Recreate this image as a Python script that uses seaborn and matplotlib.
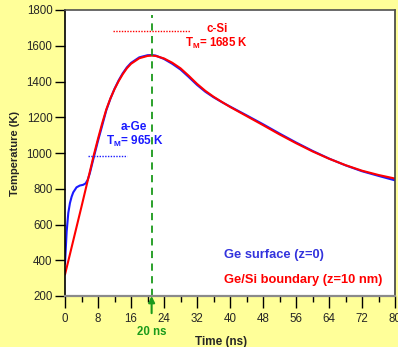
import matplotlib
matplotlib.use("Agg")
import matplotlib.pyplot as plt
import seaborn as sns
import numpy as np
import pandas as pd

# ---- data ----
t_red = [0, 1, 2, 3, 4, 5, 6, 7, 8, 9, 10, 11, 12, 13, 14, 15, 16, 18, 20, 21, 22, 24,
         26, 28, 30, 32, 34, 36, 38, 40, 44, 48, 52, 56, 60, 64, 68, 72, 76, 80]
T_red = [320, 415, 510, 605, 700, 797, 893, 990, 1080, 1165, 1243, 1305, 1357, 1402,
         1441, 1474, 1499, 1530, 1543, 1545, 1543, 1529, 1505, 1474, 1432, 1387, 1348,
         1315, 1286, 1258, 1207, 1156, 1104, 1055, 1009, 968, 932, 901, 877, 857]

t_blue = [0, 0.4, 0.8, 1.2, 1.6, 2, 2.8, 3.6, 4.4, 5, 5.5, 6, 7, 8, 9, 10, 11, 12, 13,
          14, 15, 16, 18, 20, 21, 22, 24, 26, 28, 30, 32, 34, 36, 38, 40, 44, 48, 52,
          56, 60, 64, 68, 72, 76, 80]
T_blue = [380, 560, 665, 720, 755, 780, 808, 818, 822, 830, 850, 885, 978, 1068, 1152,
          1238, 1303, 1359, 1406, 1446, 1479, 1504, 1535, 1547, 1548, 1545, 1526, 1499,
          1467, 1425, 1381, 1343, 1312, 1285, 1260, 1211, 1161, 1109, 1059, 1012, 969,
          931, 898, 872, 847]

series_names = ["Ge surface (z=0)", "Ge/Si boundary (z=10 nm)"]
series_colors = ["#1a1aff", "#ff0000"]

x_ticks = [0, 8, 16, 24, 32, 40, 48, 56, 64, 72, 80]
y_ticks = [200, 400, 600, 800, 1000, 1200, 1400, 1600, 1800]

Tm_Si = 1680
Tm_Si_span = [11.6, 30.3]
Tm_Ge = 981
Tm_Ge_span = [5.6, 15.0]
pulse_t = 21

df = pd.concat([
    pd.DataFrame({"t": t_blue, "T": T_blue, "s": series_names[0]}),
    pd.DataFrame({"t": t_red, "T": T_red, "s": series_names[1]}),
])

# ---- style ----
sns.set_style("white")
plt.rcParams["font.family"] = ["Liberation Sans", "DejaVu Sans"]
plt.rcParams["mathtext.fontset"] = "custom"
plt.rcParams["mathtext.rm"] = "Liberation Sans"
plt.rcParams["mathtext.bf"] = "Liberation Sans:bold"

bg = "#ffff99"
fig = plt.figure(figsize=(3.98, 3.47), dpi=100, facecolor=bg)
ax = fig.add_axes([65 / 398, 1 - 296 / 347, 330 / 398, 286 / 347])
ax.set_facecolor("white")

sns.lineplot(data=df, x="t", y="T", hue="s", palette=series_colors, sort=False,
             linewidth=1.5, legend=False, ax=ax)

ax.set_xlim(0, 80)
ax.set_ylim(200, 1800)
ax.set_xticks(x_ticks)
ax.set_xticks(np.arange(0, 81, 4), minor=True)
ax.set_yticks(y_ticks)
ax.tick_params(axis="x", which="major", direction="out", length=8.5, width=1,
               color="black", labelsize=8.3, pad=4, bottom=True)
ax.tick_params(axis="x", which="minor", direction="out", length=4.5, width=1,
               color="black", bottom=True)
ax.tick_params(axis="y", which="major", direction="out", length=7, width=1,
               color="black", labelsize=8.3, pad=2, left=True)

for side, col, lw in [("left", "black", 1.2), ("top", "#505050", 1.2),
                      ("right", "#404040", 1.2), ("bottom", "#8a8a8a", 1.6)]:
    ax.spines[side].set_visible(True)
    ax.spines[side].set_color(col)
    ax.spines[side].set_linewidth(lw)

ax.set_xlabel("Time (ns)", fontsize=8.5, fontweight="bold")
ax.xaxis.set_label_coords(0.473, -0.14)
ax.set_ylabel("Temperature (K)", fontsize=8, fontweight="bold", labelpad=5)

# melting lines
ax.plot(Tm_Si_span, [Tm_Si, Tm_Si], color="red", linestyle=(0, (1, 1)), linewidth=1)
ax.plot(Tm_Ge_span, [Tm_Ge, Tm_Ge], color="#1a1aff", linestyle=(0, (1, 1)), linewidth=1)

ax.text(36.8, 1694, "c-Si", color="red", fontsize=8.3, fontweight="bold",
        ha="center", va="center")
ax.text(36.8, 1615, r"T$_{\mathbf{M}}$= 1685 K", color="red", fontsize=8.3,
        fontweight="bold", ha="center", va="center")
ax.text(16.8, 1145, "a-Ge", color="#1a1aff", fontsize=8.5, fontweight="bold",
        ha="center", va="center")
ax.text(16.9, 1062, r"T$_{\mathbf{M}}$= 965 K", color="#1a1aff", fontsize=8.5,
        fontweight="bold", ha="center", va="center")

# pulse line
ax.plot([pulse_t, pulse_t], [200, 1770], color="#1a9a1a", linestyle=(0, (4, 3)),
        linewidth=1.3, clip_on=False)
ax.annotate("", xy=(pulse_t, 200), xycoords="data",
            xytext=(pulse_t, -0.06), textcoords=("data", "axes fraction"),
            arrowprops=dict(arrowstyle="-|>", color="#1a9a1a", lw=1.5,
                            mutation_scale=9, shrinkA=0, shrinkB=0),
            annotation_clip=False)
ax.text(pulse_t, -0.127, "20 ns", transform=ax.get_xaxis_transform(),
        color="#1a9a1a", fontsize=8.3, fontweight="bold", ha="center", va="center")

# legend texts
ax.text(38.5, 429, series_names[0], color="#3333dd", fontsize=9.3, fontweight="bold",
        ha="left", va="center")
ax.text(38.5, 290, series_names[1], color="red", fontsize=9.3, fontweight="bold",
        ha="left", va="center")

fig.savefig("out.png", dpi=100, facecolor=bg)
